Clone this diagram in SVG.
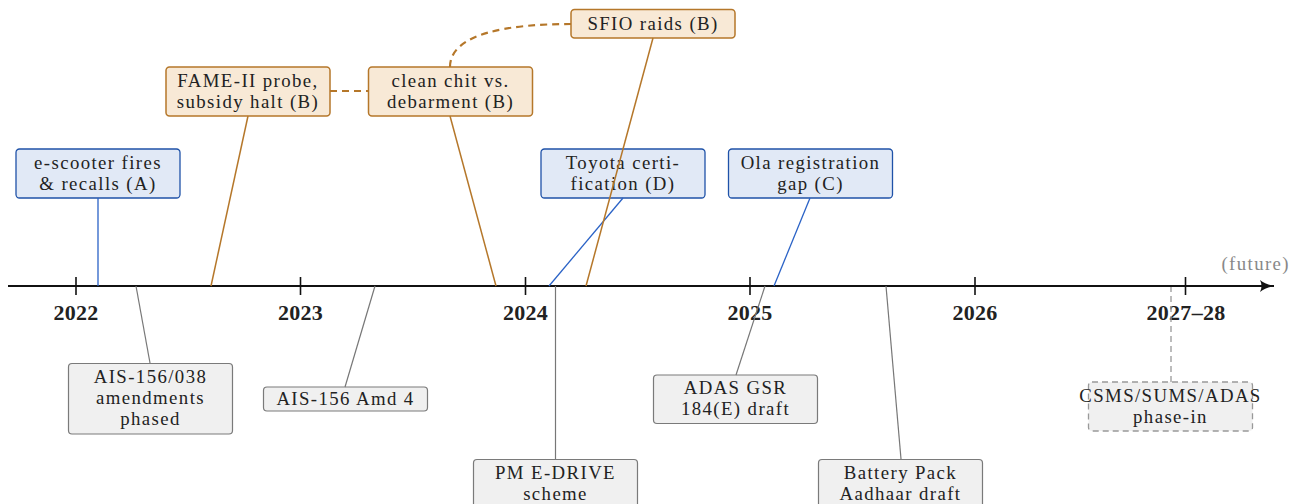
<svg xmlns="http://www.w3.org/2000/svg" width="1297" height="504" viewBox="0 0 1297 504">
<style>
text{font-family:"Liberation Serif","Times New Roman",serif;font-size:18.8px;letter-spacing:1.4px;fill:#222;text-anchor:middle}
text.yr{font-weight:bold;font-size:22px;letter-spacing:0.3px}
.blue rect{fill:#e1e9f6;stroke:#1f52a8;stroke-width:1.3}
.orange rect{fill:#f8e9d6;stroke:#b5772a;stroke-width:1.5}
.gray rect{fill:#f0f0f0;stroke:#7a7a7a;stroke-width:1.2}
.dgray rect{fill:#f0f0f0;stroke:#999;stroke-width:1.3;stroke-dasharray:6 4}
.cb{stroke:#2a62c6;stroke-width:1.3;fill:none}
.co{stroke:#b5772a;stroke-width:1.5;fill:none}
.cod{stroke:#b5772a;stroke-width:2.2;fill:none;stroke-dasharray:7 5}
.cg{stroke:#777;stroke-width:1.2;fill:none}
.cgd{stroke:#999;stroke-width:1.3;fill:none;stroke-dasharray:6 4}
</style>
<defs>
<marker id="arr" markerWidth="16" markerHeight="14" refX="14" refY="7" orient="auto" markerUnits="userSpaceOnUse">
<path d="M0,1 Q5,5 14,7 Q5,9 0,13 Q3,7 0,1 Z" fill="#111"/>
</marker>
</defs>
<g id="axis">
<line x1="8" y1="286" x2="1274" y2="286" stroke="#111" stroke-width="2.2" marker-end="url(#arr)"/>
<g stroke="#111" stroke-width="1.6">
<line x1="76" y1="277" x2="76" y2="295"/>
<line x1="300.5" y1="277" x2="300.5" y2="295"/>
<line x1="525.5" y1="277" x2="525.5" y2="295"/>
<line x1="750" y1="277" x2="750" y2="295"/>
<line x1="975" y1="277" x2="975" y2="295"/>
<line x1="1185.5" y1="277" x2="1185.5" y2="295"/>
</g>
<text class="yr" x="76" y="320">2022</text>
<text class="yr" x="300.5" y="320">2023</text>
<text class="yr" x="525.5" y="320">2024</text>
<text class="yr" x="750" y="320">2025</text>
<text class="yr" x="975" y="320">2026</text>
<text class="yr" x="1186" y="320">2027–28</text>
<text x="1290" y="270" style="text-anchor:end;fill:#888">(future)</text>
</g>
<g id="n-escooter" class="blue">
<rect x="16" y="149" width="164" height="49" rx="3.5"/>
<text x="98" y="168.5">e-scooter fires</text>
<text x="98" y="189.5">&amp; recalls (A)</text>
</g>
<g id="n-toyota" class="blue">
<rect x="541" y="149" width="164" height="49" rx="3.5"/>
<text x="623" y="168.5">Toyota certi-</text>
<text x="623" y="189.5">fication (D)</text>
</g>
<g id="n-ola" class="blue">
<rect x="728.5" y="149" width="164" height="49" rx="3.5"/>
<text x="810.5" y="168.5">Ola registration</text>
<text x="810.5" y="189.5">gap (C)</text>
</g>
<g id="n-fame" class="orange">
<rect x="166" y="67" width="164" height="49" rx="3.5"/>
<text x="248" y="86.5">FAME-II probe,</text>
<text x="248" y="107.5">subsidy halt (B)</text>
</g>
<g id="n-cleanchit" class="orange">
<rect x="368.5" y="67" width="164" height="49" rx="3.5"/>
<text x="450.5" y="86.5">clean chit vs.</text>
<text x="450.5" y="107.5">debarment (B)</text>
</g>
<g id="n-sfio" class="orange">
<rect x="571" y="9.5" width="164" height="28.5" rx="3.5"/>
<text x="653" y="30">SFIO raids (B)</text>
</g>
<g id="n-ais038" class="gray">
<rect x="68.5" y="363.5" width="164" height="70.5" rx="3.5"/>
<text x="150.5" y="382.5">AIS-156/038</text>
<text x="150.5" y="403.5">amendments</text>
<text x="150.5" y="424.5">phased</text>
</g>
<g id="n-ais4" class="gray">
<rect x="263.5" y="387" width="164" height="24" rx="3.5"/>
<text x="345.5" y="405">AIS-156 Amd 4</text>
</g>
<g id="n-pmedrive" class="gray">
<rect x="473.5" y="459.5" width="164" height="49" rx="3.5"/>
<text x="555.5" y="478.5">PM E-DRIVE</text>
<text x="555.5" y="499.5">scheme</text>
</g>
<g id="n-adas" class="gray">
<rect x="653.5" y="375" width="164" height="48.5" rx="3.5"/>
<text x="735.5" y="394">ADAS GSR</text>
<text x="735.5" y="415">184(E) draft</text>
</g>
<g id="n-battery" class="gray">
<rect x="818.5" y="459.5" width="164" height="49" rx="3.5"/>
<text x="900.5" y="478.5">Battery Pack</text>
<text x="900.5" y="499.5">Aadhaar draft</text>
</g>
<g id="n-csms" class="dgray">
<rect x="1088.5" y="382" width="164" height="49" rx="3.5"/>
<text x="1170.5" y="401.5">CSMS/SUMS/ADAS</text>
<text x="1170.5" y="422.5">phase-in</text>
</g>
<g id="connectors">
<line class="cb" x1="98" y1="198" x2="98" y2="286"/>
<line class="cb" x1="623" y1="198" x2="549" y2="286"/>
<line class="cb" x1="810" y1="198" x2="774" y2="286"/>
<line class="co" x1="248" y1="116" x2="211" y2="286"/>
<line class="co" x1="450" y1="116" x2="496" y2="286"/>
<line class="co" x1="653" y1="38" x2="586" y2="286"/>
<line class="cod" x1="330" y1="91" x2="368" y2="91"/>
<path class="cod" d="M450,67 C450,33 510,24 571,24"/>
<line class="cg" x1="150" y1="363" x2="136" y2="286"/>
<line class="cg" x1="345" y1="387" x2="375" y2="286"/>
<line class="cg" x1="555.5" y1="459" x2="555.5" y2="286"/>
<line class="cg" x1="736" y1="375" x2="765" y2="286"/>
<line class="cg" x1="901" y1="459" x2="886" y2="286"/>
<line class="cgd" x1="1171" y1="382" x2="1171" y2="287"/>
</g>
</svg>
